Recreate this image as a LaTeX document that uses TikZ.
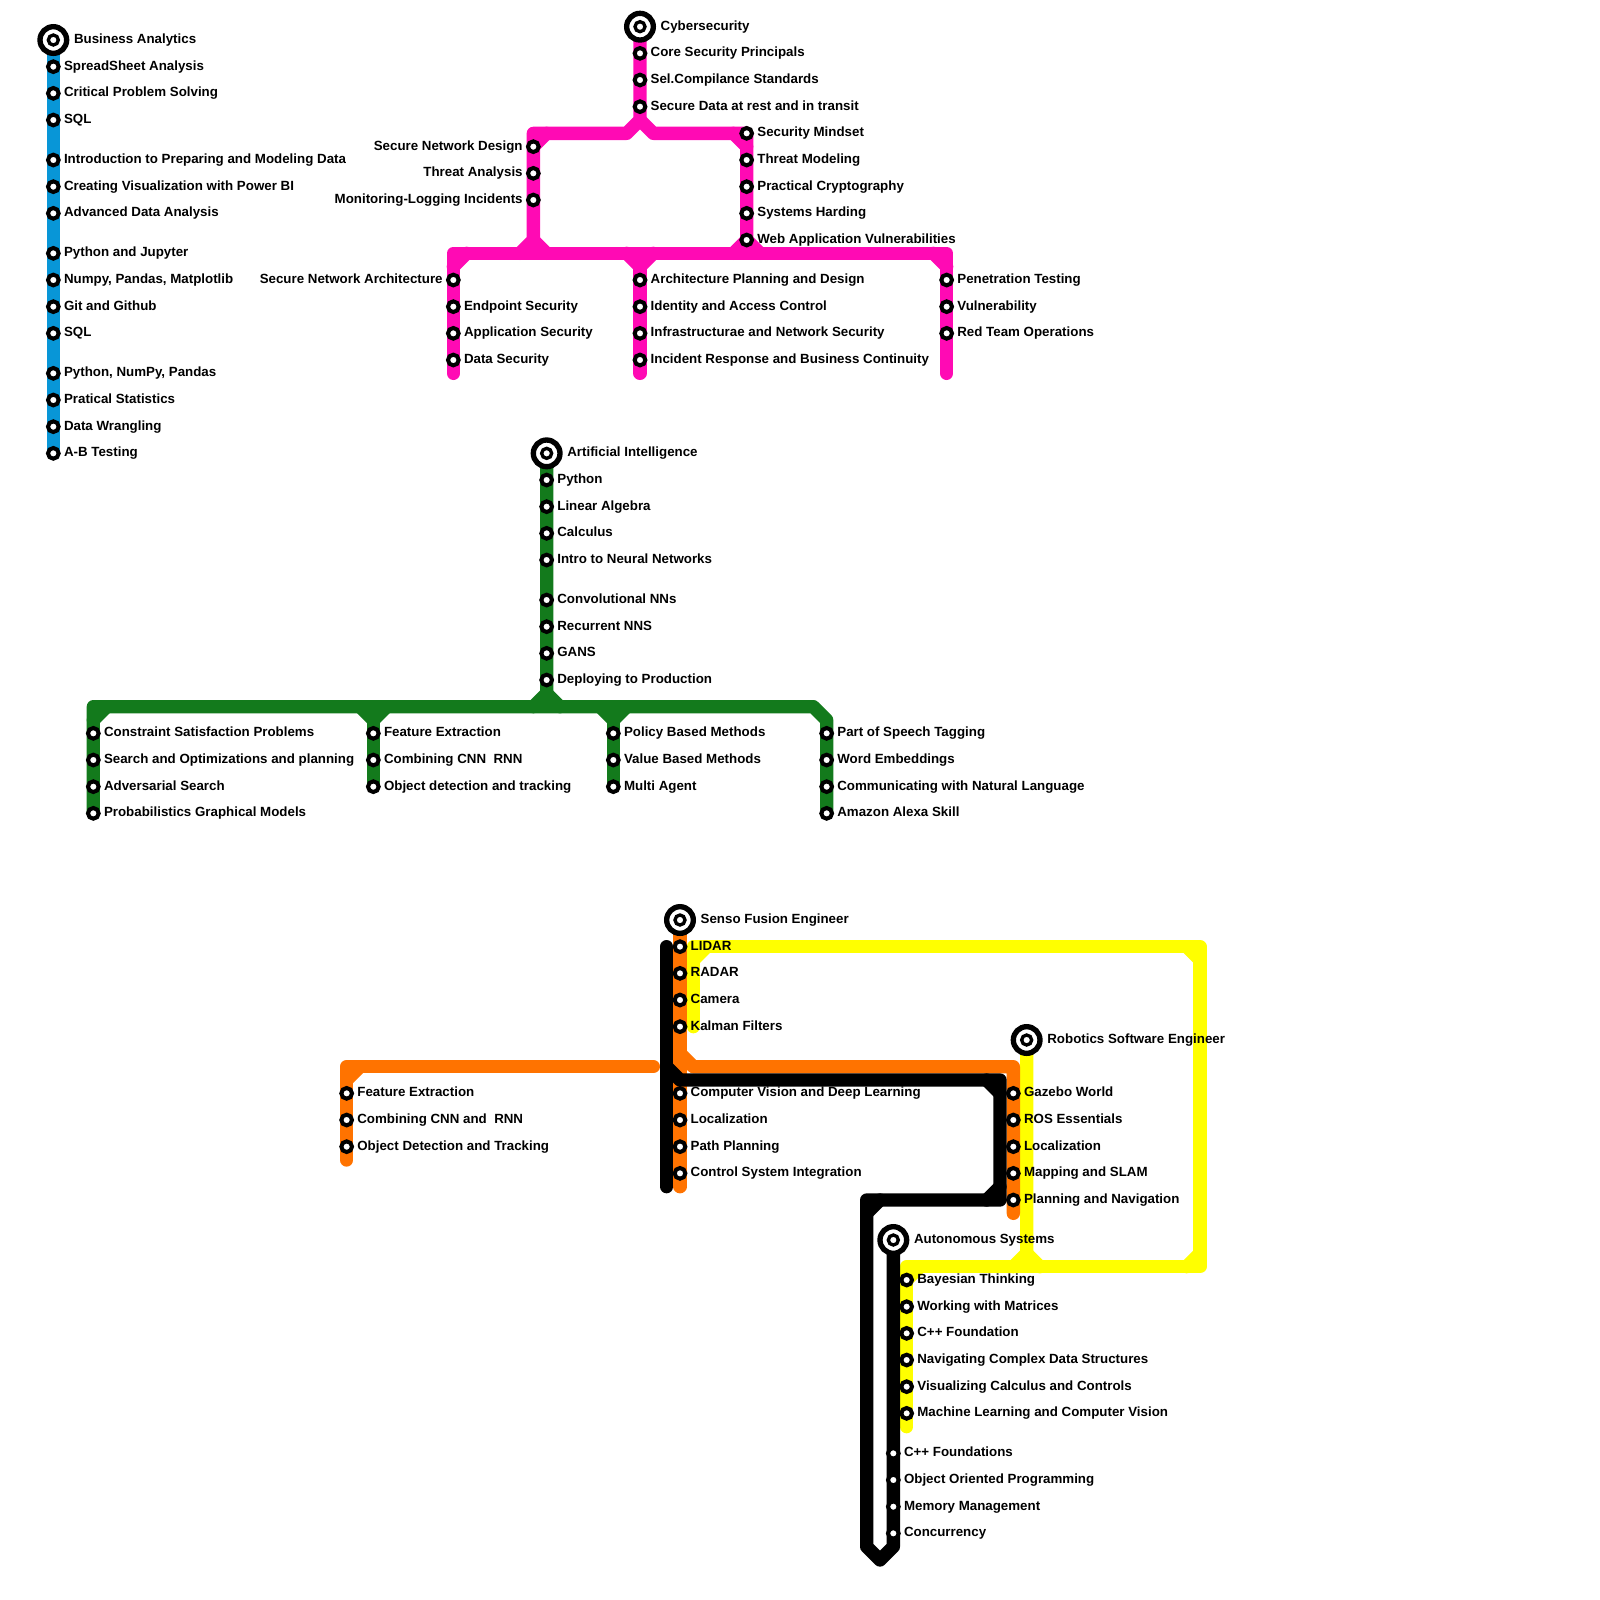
\documentclass[tikz,border=0pt]{standalone}
\usepackage{fontspec}
\setmainfont{Liberation Sans}
\usepackage{tikz}
\definecolor{bablue}{HTML}{0896D7}
\definecolor{cymagenta}{HTML}{FF0AB4}
\definecolor{aigreen}{HTML}{137A1C}
\definecolor{sforange}{HTML}{FF7300}
\definecolor{rsyellow}{HTML}{FFFF00}
\tikzset{
  track/.style={line width=3.793pt,line cap=round,line join=round},
  stopmark/.style={circle,draw=black,fill=white,line width=1.14pt,inner sep=0pt,minimum size=0.1067cm},
  stoptext/.style={inner sep=0pt,font=\fontsize{3.79}{4.5}\selectfont\bfseries},
  endmark/.style={circle,draw=black,fill=white,line width=1.52pt,inner sep=0pt,minimum size=0.2667cm,
    path picture={\draw[black,fill=white,line width=0.95pt] (path picture bounding box.center) circle (0.05cm);}}
}
\newcommand{\stopsright}[3]{\foreach \y/\lab in {#3}{
    \node[stopmark] (#1\y) at (#2,\y) {};
    \node[stoptext,anchor=base west] (#1\y t) at ([shift={(0.75,0.25)}]#1\y.center) {\lab};
  }}
\newcommand{\stopsleft}[3]{\foreach \y/\lab in {#3}{
    \node[stopmark] (#1\y) at (#2,\y) {};
    \node[stoptext,anchor=base east] (#1\y t) at ([shift={(-0.75,0.25)}]#1\y.center) {\lab};
  }}
\newcommand{\lineend}[3]{
  \node[endmark] (#1) at (#2) {};
  \node[stoptext,anchor=base west] (#1t) at ([shift={(1.5,0.25)}]#1.center) {#3};
}

\begin{document}
\begin{tikzpicture}[x=0.13333cm,y=-0.13333cm]
  \useasboundingbox (0,0) rectangle (120,120);
  % corners of the tracks
  \coordinate (baTop) at (4,3);
  \coordinate (baEnd) at (4,34);
  \coordinate (cyTop) at (48,2);
  \coordinate (cyFork) at (48,9);
  \coordinate (cyNW) at (40,10);
  \coordinate (cyNE) at (56,10);
  \coordinate (cyBusW) at (34,19);
  \coordinate (cyBusE) at (71,19);
  \coordinate (cyDrop) at (48,20);
  \coordinate (aiTop) at (41,34);
  \coordinate (aiFork) at (41,52);
  \coordinate (aiBusW) at (7,53);
  \coordinate (aiBusE) at (61,53);
  \coordinate (aiDropA) at (28,54);
  \coordinate (aiDropB) at (46,54);
  \coordinate (aiDropC) at (62,54);
  \coordinate (sfTop) at (51,69);
  \coordinate (sfBend) at (51,79);
  \coordinate (sfEnd) at (51,89);
  \coordinate (sfNE) at (76,80);
  \coordinate (sfW) at (26,80);
  \coordinate (rsTop) at (77,78);
  \coordinate (rsFork) at (77,94);
  \coordinate (yeNW) at (52,71);
  \coordinate (yeNE) at (90,71);
  \coordinate (yeSE) at (90,95);
  \coordinate (yeSW) at (68,95);
  \coordinate (blTop) at (50,71);
  \coordinate (blEnd) at (50,89);
  \coordinate (blNE) at (75,81);
  \coordinate (blSE) at (75,90);
  \coordinate (blNW) at (65,90);
  \coordinate (blTip) at (66,117);
  \coordinate (asTop) at (67,93);

  % blue
  \draw[track,bablue] (baTop) -- (baEnd);

  % magenta
  \draw[track,cymagenta] (cyTop) -- (cyFork) -- ++(-1,1) -- (cyNW) -- (40,18) -- ++(-1,1);
  \draw[track,cymagenta] (cyFork) -- ++(1,1) -- (cyNE) -- (56,18) -- ++(-1,1);
  \draw[track,cymagenta] (cyNW) ++(1,0) -- ++(-1,1);
  \draw[track,cymagenta] (cyNE) ++(-1,0) -- ++(1,1);
  \draw[track,cymagenta] (40,18) -- ++(1,1);
  \draw[track,cymagenta] (56,18) -- ++(1,1);
  \draw[track,cymagenta] (34,28) -- (cyBusW) -- (cyBusE) -- (71,28);
  \draw[track,cymagenta] (cyBusW) ++(1,0) -- ++(-1,1);
  \draw[track,cymagenta] (cyBusE) ++(-1,0) -- ++(1,1);
  \draw[track,cymagenta] (47,19) -- (cyDrop) -- (49,19);
  \draw[track,cymagenta] (cyDrop) -- (48,28);

  % green
  \draw[track,aigreen] (aiTop) -- (aiFork) -- ++(-1,1);
  \draw[track,aigreen] (aiFork) -- ++(1,1);
  \draw[track,aigreen] (7,61) -- (aiBusW) -- (aiBusE) -- (aiDropC) -- (62,61);
  \draw[track,aigreen] (aiBusW) ++(1,0) -- ++(-1,1);
  \draw[track,aigreen] (27,53) -- (aiDropA) -- (29,53);
  \draw[track,aigreen] (aiDropA) -- (28,59);
  \draw[track,aigreen] (45,53) -- (aiDropB) -- (47,53);
  \draw[track,aigreen] (aiDropB) -- (46,59);

  % yellow
  \draw[track,rsyellow] (52,77) -- (yeNW) -- (yeNE) -- (yeSE) -- (yeSW) -- (68,107);
  \draw[track,rsyellow] (yeNW) ++(1,0) -- ++(-1,1);
  \draw[track,rsyellow] (yeNE) ++(-1,0) -- ++(1,1);
  \draw[track,rsyellow] (yeSE) ++(-1,0) -- ++(1,-1);
  \draw[track,rsyellow] (yeSW) ++(1,0) -- ++(-1,1);
  \draw[track,rsyellow] (rsTop) -- (rsFork) -- ++(-1,1);
  \draw[track,rsyellow] (rsFork) -- ++(1,1);

  % orange
  \draw[track,sforange] (sfTop) -- (sfEnd);
  \draw[track,sforange] (sfBend) -- ++(1,1) -- (sfNE) -- (76,91);
  \draw[track,sforange] (26,87) -- (sfW) -- (49,80);
  \draw[track,sforange] (sfW) ++(1,0) -- ++(-1,1);

  % black
  \draw[track,black] (blTop) -- (blEnd);
  \draw[track,black] (50,80) -- ++(1,1) -- (blNE) -- (blSE) -- (blNW) -- (65,116) -- (blTip) -- (67,116) -- (asTop);
  \draw[track,black] (blNE) ++(-1,0) -- ++(1,1);
  \draw[track,black] (blSE) ++(-1,0) -- ++(1,-1);
  \draw[track,black] (blNW) ++(1,0) -- ++(-1,1);

  % Business Analytics
  \lineend{ba}{baTop}{Business Analytics}
  \stopsright{ba}{4}{5/SpreadSheet Analysis,7/Critical Problem Solving,9/SQL,
    12/Introduction to Preparing and Modeling Data,14/Creating Visualization with Power BI,16/Advanced Data Analysis,
    19/Python and Jupyter,21/{Numpy, Pandas, Matplotlib},23/Git and Github,25/SQL,
    28/{Python, NumPy, Pandas},30/Pratical Statistics,32/Data Wrangling,34/A-B Testing}

  % Cybersecurity
  \lineend{cy}{cyTop}{Cybersecurity}
  \stopsright{cyA}{48}{4/Core Security Principals,6/Sel.Compilance Standards,8/Secure Data at rest and in transit}
  \stopsleft{cyB}{40}{11/Secure Network Design,13/Threat Analysis,15/Monitoring-Logging Incidents}
  \stopsright{cyC}{56}{10/Security Mindset,12/Threat Modeling,14/Practical Cryptography,16/Systems Harding,18/Web Application Vulnerabilities}
  \stopsleft{cyD}{34}{21/Secure Network Architecture}
  \stopsright{cyD}{34}{23/Endpoint Security,25/Application Security,27/Data Security}
  \stopsright{cyE}{48}{21/Architecture Planning and Design,23/Identity and Access Control,25/Infrastructurae and Network Security,27/Incident Response and Business Continuity}
  \stopsright{cyF}{71}{21/Penetration Testing,23/Vulnerability,25/Red Team Operations}

  % Artificial Intelligence
  \lineend{ai}{aiTop}{Artificial Intelligence}
  \stopsright{aiA}{41}{36/Python,38/Linear Algebra,40/Calculus,42/Intro to Neural Networks,45/Convolutional NNs,47/Recurrent NNS,49/GANS,51/Deploying to Production}
  \stopsright{aiB}{7}{55/Constraint Satisfaction Problems,57/Search and Optimizations and planning,59/Adversarial Search,61/Probabilistics Graphical Models}
  \stopsright{aiC}{28}{55/Feature Extraction,57/Combining CNN\ \ RNN,59/Object detection and tracking}
  \stopsright{aiD}{46}{55/Policy Based Methods,57/Value Based Methods,59/Multi Agent}
  \stopsright{aiE}{62}{55/Part of Speech Tagging,57/Word Embeddings,59/Communicating with Natural Language,61/Amazon Alexa Skill}

  % Senso Fusion Engineer
  \lineend{sf}{sfTop}{Senso Fusion Engineer}
  \stopsright{sfA}{51}{71/LIDAR,73/RADAR,75/Camera,77/Kalman Filters,82/Computer Vision and Deep Learning,84/Localization,86/Path Planning,88/Control System Integration}
  \stopsright{sfB}{26}{82/Feature Extraction,84/Combining CNN and\ \ RNN,86/Object Detection and Tracking}

  % Robotics Software Engineer
  \lineend{rs}{rsTop}{Robotics Software Engineer}
  \stopsright{rsA}{76}{82/Gazebo World,84/ROS Essentials,86/Localization,88/Mapping and SLAM,90/Planning and Navigation}

  % Autonomous Systems
  \lineend{as}{asTop}{Autonomous Systems}
  \stopsright{asA}{68}{96/Bayesian Thinking,98/Working with Matrices,100/C++ Foundation,102/Navigating Complex Data Structures,104/Visualizing Calculus and Controls,106/Machine Learning and Computer Vision}
  \stopsright{asB}{67}{109/C++ Foundations,111/Object Oriented Programming,113/Memory Management,115/Concurrency}
\end{tikzpicture}
\end{document}
